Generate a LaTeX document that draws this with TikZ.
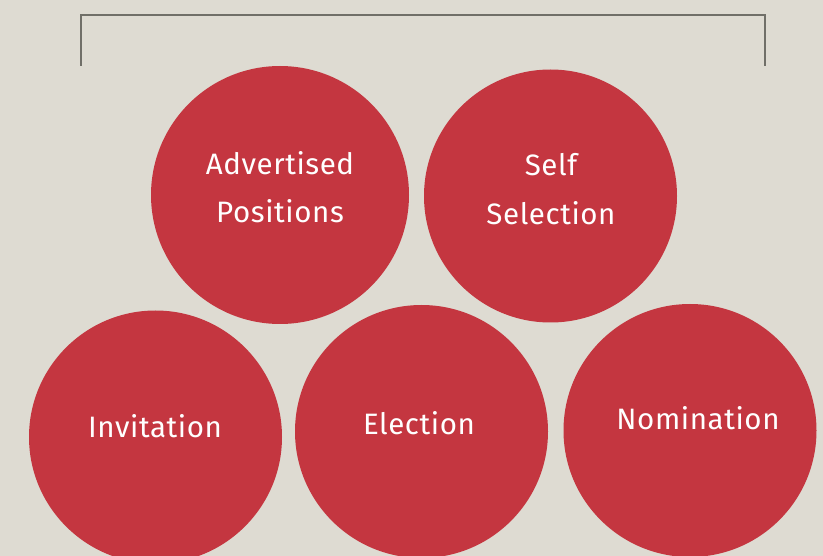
\documentclass[tikz,border=0pt]{standalone}
\usepackage{fontspec}
\setmainfont{Fira Sans}[LetterSpace=2]
\definecolor{bg}{RGB}{222,219,210}
\definecolor{disc}{RGB}{196,54,64}
\definecolor{rule}{RGB}{112,111,104}
\begin{document}
\begin{tikzpicture}[x=1pt,y=-1pt,
  bubble/.style={circle,fill=disc,draw=none,inner sep=0pt,minimum size=#1},
  lbl/.style={text=white,font=\fontsize{29.5}{48}\selectfont,align=center,inner sep=0pt,anchor=base}]
\fill[bg] (0,0) rectangle (823,556);
\useasboundingbox (0,0) rectangle (823,556);
\coordinate (bl) at (80.5,66);
\coordinate (br) at (764.5,66);
\draw[rule,line width=2pt] (bl) |- (422,15) -| (br);
\node[bubble=258pt] (c1) at (280,195) {};
\node[bubble=253pt] (c2) at (550.5,196) {};
\node[bubble=253pt] (c3) at (155.5,437) {};
\node[bubble=253pt] (c4) at (421.5,431.5) {};
\node[bubble=253pt] (c5) at (690,430.5) {};
\node[lbl] (t1a) at (280,175) {Advertised};
\node[lbl] (t1b) at (280,223) {Positions};
\node[lbl] (t2a) at (551,176) {Self};
\node[lbl] (t2b) at (551,225) {Selection};
\node[lbl] (t3) at (155,437) {Invitation};
\node[lbl] (t4) at (419,435) {Election};
\node[lbl] (t5) at (698,429) {Nomination};
\end{tikzpicture}
\end{document}
